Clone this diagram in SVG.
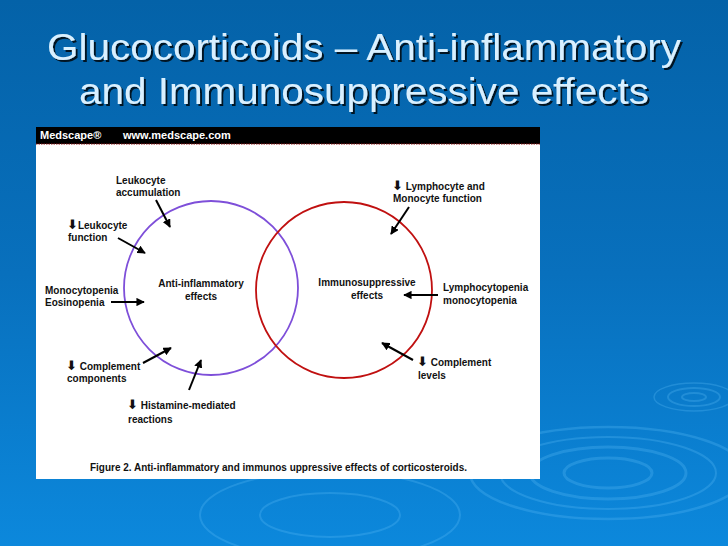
<svg xmlns="http://www.w3.org/2000/svg" width="728" height="546" viewBox="0 0 728 546">
<defs>
<linearGradient id="bg" x1="0" y1="0" x2="0" y2="1">
<stop offset="0" stop-color="#0462a8"/>
<stop offset="0.5" stop-color="#0870bd"/>
<stop offset="1" stop-color="#0c88dc"/>
</linearGradient>
<marker id="ah" viewBox="0 0 10 10" refX="9" refY="5" markerWidth="4.2" markerHeight="4.2" orient="auto" markerUnits="strokeWidth">
<path d="M0,0 L10,5 L0,10 z" fill="#000"/>
</marker>
<filter id="sh" x="-5%" y="-20%" width="110%" height="140%">
<feGaussianBlur in="SourceAlpha" stdDeviation="0.6"/>
<feOffset dx="2" dy="2"/>
<feComponentTransfer><feFuncA type="linear" slope="0.8"/></feComponentTransfer>
<feMerge><feMergeNode/><feMergeNode in="SourceGraphic"/></feMerge>
</filter>
</defs>
<style>
.t{font-family:"Liberation Sans",Arial,sans-serif;font-size:10px;font-weight:bold;fill:#111}
.a{font-family:"DejaVu Sans",sans-serif;font-size:13px;font-weight:bold}
.title{font-family:"Liberation Sans",Arial,sans-serif;font-size:37px;fill:#d9f0ff;text-anchor:middle}
.rip{fill:none;stroke:#5bb8f5;stroke-opacity:0.3}
.con{stroke:#000;stroke-width:2;fill:none;marker-end:url(#ah)}
</style>
<rect width="728" height="546" fill="url(#bg)"/>
<g id="ripples">
<ellipse class="rip" cx="608" cy="473" rx="138" ry="46" stroke-width="2.5"/>
<ellipse class="rip" cx="608" cy="473" rx="108" ry="36" stroke-width="2"/>
<ellipse class="rip" cx="608" cy="473" rx="78" ry="26" stroke-width="3"/>
<ellipse class="rip" cx="608" cy="473" rx="44" ry="15" stroke-width="3"/>
<ellipse class="rip" cx="694" cy="397" rx="40" ry="14" stroke-width="1.5"/>
<ellipse class="rip" cx="694" cy="397" rx="26" ry="9" stroke-width="2"/>
<ellipse class="rip" cx="694" cy="397" rx="12" ry="4" stroke-width="2"/>
<ellipse class="rip" cx="330" cy="515" rx="130" ry="44" stroke-width="2" stroke-opacity="0.12"/>
<ellipse class="rip" cx="330" cy="515" rx="70" ry="22" stroke-width="2" stroke-opacity="0.12"/>
</g>
<g id="title" filter="url(#sh)">
<text class="title" x="364" y="60" textLength="634" lengthAdjust="spacingAndGlyphs">Glucocorticoids – Anti-inflammatory</text>
<text class="title" x="364" y="104" textLength="570" lengthAdjust="spacingAndGlyphs">and Immunosuppressive effects</text>
</g>
<g id="panel">
<rect x="36" y="127" width="504" height="352" fill="#fff"/>
<rect x="36" y="127" width="504" height="17" fill="#000"/>
<line x1="36" y1="144" x2="540" y2="144" stroke="#8a1010" stroke-width="1" stroke-dasharray="1.5 1"/>
<text x="40" y="139" style="font-family:'Liberation Sans',Arial,sans-serif;font-size:11px;font-weight:bold;fill:#fff">Medscape®</text>
<text x="123" y="139" style="font-family:'Liberation Sans',Arial,sans-serif;font-size:11px;font-weight:bold;fill:#fff">www.medscape.com</text>
</g>
<g id="anti-inflammatory">
<circle cx="211" cy="288" r="87" fill="none" stroke="#7e4fd9" stroke-width="1.8"/>
<text class="t" x="201" y="287" text-anchor="middle">Anti-inflammatory</text>
<text class="t" x="201" y="300" text-anchor="middle">effects</text>
</g>
<g id="immunosuppressive">
<circle cx="344" cy="290" r="88" fill="none" stroke="#c01010" stroke-width="1.8"/>
<text class="t" x="367" y="286" text-anchor="middle">Immunosuppressive</text>
<text class="t" x="367" y="299" text-anchor="middle">effects</text>
</g>
<g id="labels">
<text class="t" x="116" y="184">Leukocyte</text>
<text class="t" x="116" y="196">accumulation</text>
<text class="t" x="67" y="229"><tspan class="a">⬇</tspan>Leukocyte</text>
<text class="t" x="68" y="241">function</text>
<text class="t" x="45" y="294">Monocytopenia</text>
<text class="t" x="45" y="306">Eosinopenia</text>
<text class="t" x="66" y="370"><tspan class="a">⬇</tspan> Complement</text>
<text class="t" x="67" y="382">components</text>
<text class="t" x="127" y="409"><tspan class="a">⬇</tspan> Histamine-mediated</text>
<text class="t" x="128" y="423">reactions</text>
<text class="t" x="392" y="190"><tspan class="a">⬇</tspan> Lymphocyte and</text>
<text class="t" x="393" y="202">Monocyte function</text>
<text class="t" x="443" y="291">Lymphocytopenia</text>
<text class="t" x="443" y="304">monocytopenia</text>
<text class="t" x="417" y="366"><tspan class="a">⬇</tspan> Complement</text>
<text class="t" x="418" y="379">levels</text>
<text class="t" x="90" y="471" textLength="377" lengthAdjust="spacingAndGlyphs">Figure 2. Anti-inflammatory and immunos uppressive effects of corticosteroids.</text>
</g>
<g id="connectors">
<line class="con" x1="156" y1="200" x2="170" y2="227"/>
<line class="con" x1="118" y1="238" x2="145" y2="253"/>
<line class="con" x1="111" y1="302" x2="144" y2="302"/>
<line class="con" x1="143" y1="363" x2="171" y2="348"/>
<line class="con" x1="189" y1="390" x2="201" y2="360"/>
<line class="con" x1="409" y1="207" x2="391" y2="234"/>
<line class="con" x1="438" y1="295" x2="404" y2="295"/>
<line class="con" x1="413" y1="360" x2="382" y2="343"/>
</g>
</svg>
